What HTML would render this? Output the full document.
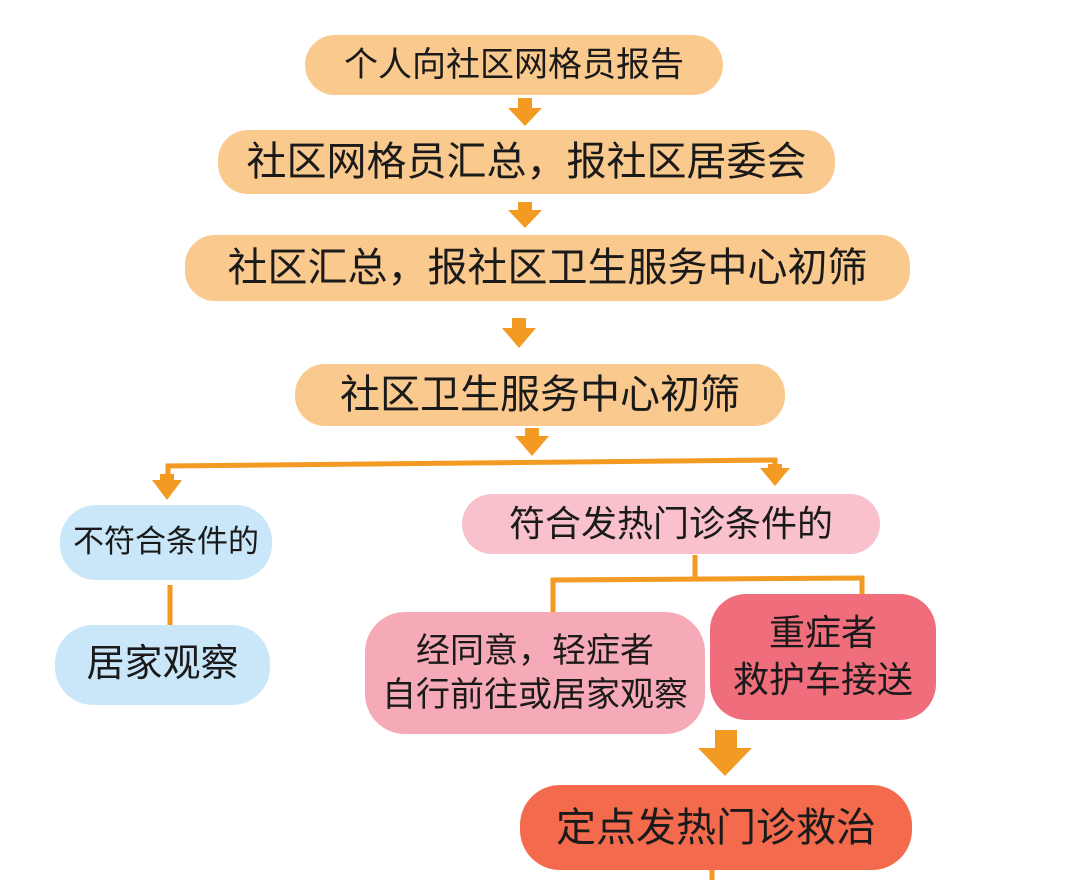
<!DOCTYPE html>
<html><head><meta charset="utf-8"><style>
body{margin:0;width:1080px;height:880px;background:#fff;position:relative;overflow:hidden;font-family:"Liberation Sans","Noto Sans CJK SC",sans-serif;color:#1a1a1a}
.b{position:absolute;display:flex;align-items:center;justify-content:center;text-align:center;line-height:1.3;white-space:nowrap}
.o{background:#f9c98e;border-radius:30px}
svg{position:absolute;left:0;top:0}
</style></head><body>
<svg width="1080" height="880">
<g fill="#f39a22">
<rect x="518" y="98" width="14" height="14"/><polygon points="508,108 542,108 525,126"/>
<rect x="518" y="202" width="14" height="12"/><polygon points="508,210 542,210 525,228"/>
<rect x="512" y="318" width="14" height="14"/><polygon points="502,328 536,328 519,348"/>
<rect x="525" y="428" width="14" height="12"/><polygon points="515,436 549,436 532,456"/>
<rect x="160" y="474" width="14" height="10"/><polygon points="152,480 182,480 167,500"/>
<rect x="768" y="464" width="14" height="8"/><polygon points="760,468 790,468 775,486"/>
<rect x="715" y="730" width="22" height="22"/><polygon points="698,748 752,748 725,776"/>
</g>
<g stroke="#f39a22" stroke-width="5" fill="none">
<polyline points="168,476 168,466 775,460 775,468"/>
<line x1="170" y1="585" x2="170" y2="625"/>
<line x1="695" y1="555" x2="695" y2="580"/>
<polyline points="553,612 553,580 862,578 862,598"/>
<line x1="712" y1="868" x2="712" y2="880"/>
</g>
</svg>
<div class="b o" style="left:305px;top:35px;width:418px;height:60px;font-size:34px">个人向社区网格员报告</div>
<div class="b o" style="left:218px;top:130px;width:617px;height:64px;font-size:40px">社区网格员汇总，报社区居委会</div>
<div class="b o" style="left:185px;top:235px;width:725px;height:66px;font-size:40px">社区汇总，报社区卫生服务中心初筛</div>
<div class="b o" style="left:295px;top:364px;width:490px;height:62px;font-size:40px">社区卫生服务中心初筛</div>
<div class="b" style="left:60px;top:505px;width:212px;height:75px;background:#c9e7f8;border-radius:36px;font-size:31px">不符合条件的</div>
<div class="b" style="left:55px;top:625px;width:215px;height:80px;background:#c9e7f8;border-radius:38px;font-size:38px">居家观察</div>
<div class="b" style="left:462px;top:494px;width:418px;height:60px;background:#f8c1cb;border-radius:30px;font-size:36px">符合发热门诊条件的</div>
<div class="b" style="left:365px;top:612px;width:340px;height:122px;background:#f6aab7;border-radius:40px;font-size:34px">经同意，轻症者<br>自行前往或居家观察</div>
<div class="b" style="left:710px;top:594px;width:226px;height:126px;background:#f06d7b;border-radius:36px;font-size:36px">重症者<br>救护车接送</div>
<div class="b" style="left:520px;top:785px;width:392px;height:85px;background:#f36a4c;border-radius:40px;font-size:40px">定点发热门诊救治</div>
</body></html>
